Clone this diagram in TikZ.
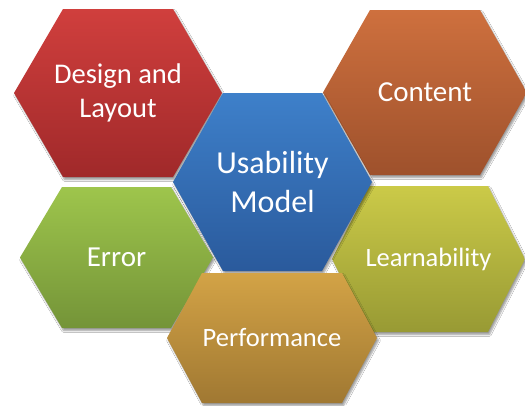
\documentclass[tikz,border=0pt]{standalone}
\usepackage{fontspec}
\setmainfont{Carlito}
\usetikzlibrary{shadows.blur}

% fill colours, lighter at the top of each cell
\definecolor{redT}{RGB}{208,63,61}
\definecolor{redB}{RGB}{160,41,42}
\definecolor{oraT}{RGB}{206,112,62}
\definecolor{oraB}{RGB}{158,81,44}
\definecolor{bluT}{RGB}{62,128,202}
\definecolor{bluB}{RGB}{42,90,156}
\definecolor{grnT}{RGB}{158,197,76}
\definecolor{grnB}{RGB}{116,148,56}
\definecolor{ylwT}{RGB}{203,202,72}
\definecolor{ylwB}{RGB}{152,154,52}
\definecolor{gldT}{RGB}{211,163,70}
\definecolor{gldB}{RGB}{160,120,50}

\tikzset{
  cell/.style={draw=none,
    blur shadow={shadow xshift=1.5pt, shadow yshift=-2.5pt,
                 shadow blur radius=1.8pt, shadow blur steps=5,
                 shadow opacity=40}},
  celltext/.style={text=white, align=center, inner sep=0pt},
  red cell/.style={top color=redT, bottom color=redB},
  orange cell/.style={top color=oraT, bottom color=oraB},
  blue cell/.style={top color=bluT, bottom color=bluB},
  green cell/.style={top color=grnT, bottom color=grnB},
  yellow cell/.style={top color=ylwT, bottom color=ylwB},
  gold cell/.style={top color=gldT, bottom color=gldB}
}

% #1 name, #2 left x, #3 right x, #4 top y, #5 bottom y, #6 corner inset,
% #7 fill style, #8 font, #9 text
\newcommand\hexcell[9]{%
  \pgfmathsetmacro\hxm{(#4+#5)/2}%
  \pgfmathsetmacro\hxc{(#2+#3)/2}%
  \path[cell, #7]
    (#2,\hxm) -- (#2+#6,#4) -- (#3-#6,#4) -- (#3,\hxm)
    -- (#3-#6,#5) -- (#2+#6,#5) -- cycle;
  \node[celltext, font=#8] (#1) at (\hxc,\hxm) {#9};
}

\begin{document}
\begin{tikzpicture}[x=1pt, y=-1pt]
  \useasboundingbox (0,0) rectangle (525,405);
  \fill[white] (0,0) rectangle (525,405);
  \clip (0,0) rectangle (525,405);

  \hexcell{design}{14}{222}{9}{177}{49}{red cell}%
    {\fontsize{28.5}{33.5}\selectfont}{Design and\\Layout}
  \hexcell{content}{323}{527}{10}{175}{47}{orange cell}%
    {\fontsize{29}{34}\selectfont}{Content}
  \hexcell{error}{20}{213}{187}{328}{42}{green cell}%
    {\fontsize{29}{34}\selectfont}{Error}
  \hexcell{learn}{332}{525}{186}{332}{37}{yellow cell}%
    {\fontsize{26.5}{31}\selectfont}{Learnability}
  \hexcell{usability}{173}{372}{93}{271}{50}{blue cell}%
    {\fontsize{32}{39}\selectfont}{Usability\\Model}
  \hexcell{perf}{167}{377}{273}{403}{35}{gold cell}%
    {\fontsize{26.5}{31}\selectfont}{Performance}
\end{tikzpicture}
\end{document}
